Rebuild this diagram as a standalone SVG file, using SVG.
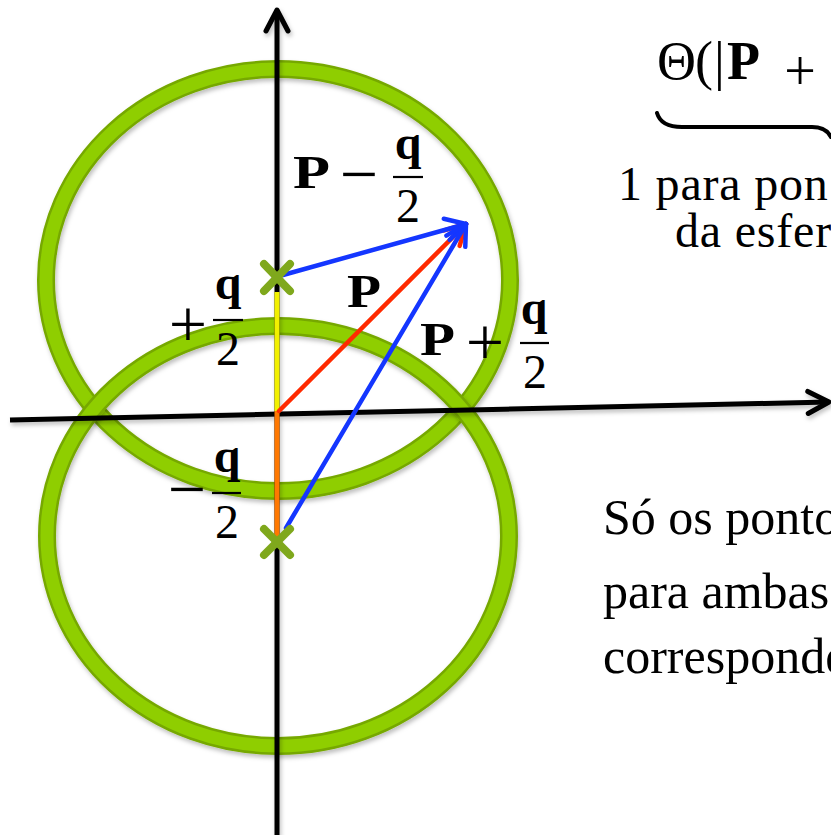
<svg xmlns="http://www.w3.org/2000/svg" width="831" height="835" viewBox="0 0 831 835">
<defs>
<style>
.ring-o{fill:none;stroke:#76a800;stroke-width:18}
.ring-i{fill:none;stroke:#8fce00;stroke-width:13}
.axis{stroke:#000;stroke-width:5;fill:none}
.vec{stroke-width:4.5;fill:none;stroke-linecap:round}
.cross{stroke:#7fa81c;stroke-width:8;stroke-linecap:round}
.bar{stroke:#000;stroke-width:2.2}
.t{font-family:"Liberation Serif","Times New Roman",serif;fill:#000}
.b{font-weight:bold}
.body{font-size:50px}
.m{font-size:46px}
.f{font-size:48px}
.op{font-size:68px}
</style>
<filter id="sh" x="-10%" y="-10%" width="120%" height="120%">
<feDropShadow dx="1.5" dy="3" stdDeviation="2" flood-color="#000" flood-opacity="0.25"/>
</filter>
<marker id="ah-k" markerUnits="userSpaceOnUse" viewBox="-30 -16 34 32" refX="0" refY="0" markerWidth="34" markerHeight="32" orient="auto">
<path d="M-21,-11 L0,0 L-21,11" fill="none" stroke="#000" stroke-width="5" stroke-linecap="round" stroke-linejoin="round"/>
</marker>
<marker id="ah-b" markerUnits="userSpaceOnUse" viewBox="-30 -16 34 32" refX="0" refY="0" markerWidth="34" markerHeight="32" orient="auto">
<path d="M-20,-11 L0,0 L-20,11" fill="none" stroke="#1436ff" stroke-width="4.5" stroke-linecap="round" stroke-linejoin="round"/>
</marker>
<marker id="ah-r" markerUnits="userSpaceOnUse" viewBox="-30 -16 34 32" refX="0" refY="0" markerWidth="34" markerHeight="32" orient="auto">
<path d="M-20,-11 L0,0 L-20,11" fill="none" stroke="#ff2a00" stroke-width="4.5" stroke-linecap="round" stroke-linejoin="round"/>
</marker>
</defs>
<rect width="831" height="835" fill="#fff"/>

<g id="circle-top" filter="url(#sh)">
<ellipse class="ring-o" cx="278" cy="280" rx="232" ry="211"/>
<ellipse class="ring-i" cx="278" cy="280" rx="232" ry="211"/>
</g>
<g id="circle-bottom" filter="url(#sh)">
<ellipse class="ring-o" cx="278" cy="536" rx="231" ry="210"/>
<ellipse class="ring-i" cx="278" cy="536" rx="231" ry="210"/>
</g>

<g id="axes" filter="url(#sh)">
<line class="axis" x1="277" y1="835" x2="277" y2="10" marker-end="url(#ah-k)"/>
<line class="axis" x1="10" y1="420" x2="829" y2="402" marker-end="url(#ah-k)"/>
</g>

<g id="connectors">
<line x1="277" y1="292" x2="277" y2="411" stroke="#f2f000" stroke-width="5"/>
<line x1="277" y1="411" x2="277" y2="542" stroke="#ff7800" stroke-width="5"/>
<line class="vec" stroke="#ff2a00" x1="279" y1="411" x2="466" y2="224" marker-end="url(#ah-r)"/>
<line class="vec" stroke="#1436ff" x1="283" y1="275" x2="466" y2="224" marker-end="url(#ah-b)"/>
<line class="vec" stroke="#1436ff" x1="286" y1="528" x2="466" y2="224" marker-end="url(#ah-b)"/>
</g>

<g id="point-plus-q2">
<line class="cross" x1="264" y1="264" x2="290" y2="291"/>
<line class="cross" x1="290" y1="264" x2="264" y2="291"/>
</g>
<g id="point-minus-q2">
<line class="cross" x1="264" y1="529" x2="290" y2="555"/>
<line class="cross" x1="290" y1="529" x2="264" y2="555"/>
</g>

<g id="label-P-minus">
<text class="t b m" x="293" y="188" textLength="37" lengthAdjust="spacingAndGlyphs">P</text>
<text class="t op" x="359" y="197" text-anchor="middle">−</text>
<text class="t b f" x="408" y="159" text-anchor="middle">q</text>
<line class="bar" x1="393" y1="177" x2="423" y2="177"/>
<text class="t f" x="408" y="222" text-anchor="middle">2</text>
</g>

<g id="label-plus-q2">
<text class="t op" x="188" y="347" text-anchor="middle">+</text>
<text class="t b f" x="228" y="299" text-anchor="middle">q</text>
<line class="bar" x1="213" y1="320" x2="243" y2="320"/>
<text class="t f" x="228" y="365" text-anchor="middle">2</text>
</g>

<g id="label-P">
<text class="t b m" x="347" y="307" textLength="34" lengthAdjust="spacingAndGlyphs">P</text>
</g>

<g id="label-P-plus">
<text class="t b m" x="420" y="355" textLength="35" lengthAdjust="spacingAndGlyphs">P</text>
<text class="t op" x="485" y="365" text-anchor="middle">+</text>
<text class="t b f" x="534" y="324" text-anchor="middle">q</text>
<line class="bar" x1="520" y1="343" x2="549" y2="343"/>
<text class="t f" x="535" y="388" text-anchor="middle">2</text>
</g>

<g id="label-minus-q2">
<text class="t op" x="187" y="512" text-anchor="middle">−</text>
<text class="t b f" x="227" y="472" text-anchor="middle">q</text>
<line class="bar" x1="212" y1="493" x2="241" y2="493"/>
<text class="t f" x="227" y="538" text-anchor="middle">2</text>
</g>

<g id="formula-top">
<text class="t" style="font-size:54px" y="79"><tspan x="657">Θ</tspan><tspan x="695">(</tspan><tspan x="714">|</tspan><tspan x="727" class="b">P</tspan></text>
<text class="t" style="font-size:56px" x="800" y="90" text-anchor="middle">+</text>
<path d="M657,113 Q661,127 682,127 L812,127 Q826,127 831,137" fill="none" stroke="#000" stroke-width="4" stroke-linecap="round"/>
<text class="t" style="font-size:48px;letter-spacing:0.8px" x="618" y="200">1 para pon</text>
<text class="t" style="font-size:48px;letter-spacing:0.8px" x="675" y="247">da esfer</text>
</g>

<g id="note">
<text class="t body" x="603" y="534">Só os ponto</text>
<text class="t body" x="603" y="608">para ambas</text>
<text class="t body" x="603" y="673">corresponde</text>
</g>
</svg>
